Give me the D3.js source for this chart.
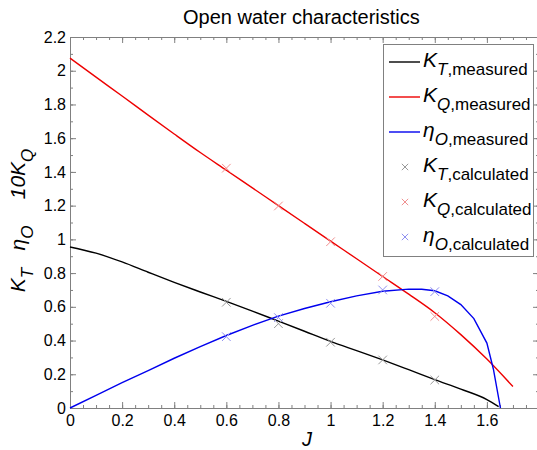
<!DOCTYPE html>
<html>
<head>
<meta charset="utf-8">
<script src="https://cdn.jsdelivr.net/npm/d3@7"></script>
<style>
  body { margin: 0; background: #fff; }
  svg { display: block; font-family: "Liberation Sans", Arial, sans-serif; }
</style>
</head>
<body>
<svg id="chart" width="537" height="450"></svg>
<script>
// measured curves
let jKT = [0, 0.1, 0.2, 0.3, 0.4, 0.5, 0.6, 0.7, 0.8, 0.9, 1.0, 1.1, 1.2, 1.3, 1.4, 1.5, 1.6, 1.645];
let ktMeasured = [0.955, 0.918, 0.866, 0.805, 0.745, 0.688, 0.632, 0.575, 0.515, 0.455, 0.395, 0.34, 0.285, 0.227, 0.168, 0.112, 0.05, 0.008];

let jKQ = [0, 0.1, 0.2, 0.3, 0.4, 0.5, 0.6, 0.7, 0.8, 0.9, 1.0, 1.1, 1.2, 1.3, 1.4, 1.5, 1.6, 1.7];
let kq10Measured = [2.075, 1.962, 1.85, 1.737, 1.625, 1.515, 1.41, 1.305, 1.2, 1.095, 0.99, 0.885, 0.78, 0.675, 0.565, 0.435, 0.29, 0.127];

let jEta = [0, 0.1, 0.2, 0.3, 0.4, 0.5, 0.6, 0.7, 0.8, 0.9, 1.0, 1.1, 1.2, 1.3, 1.35, 1.4, 1.45, 1.5, 1.55, 1.6, 1.625, 1.652];
let etaMeasured = [0, 0.075, 0.15, 0.222, 0.295, 0.364, 0.43, 0.49, 0.545, 0.59, 0.63, 0.665, 0.692, 0.705, 0.704, 0.695, 0.665, 0.613, 0.53, 0.385, 0.23, 0.0];

// calculated points
let jCalc = [0.6, 0.8, 1.0, 1.2, 1.4];
let ktCalc = [0.627, 0.50, 0.39, 0.285, 0.166];
let kq10Calc = [1.422, 1.198, 0.986, 0.78, 0.543];
let etaCalc = [0.423, 0.536, 0.621, 0.70, 0.69];

let xTicks = [0, 0.2, 0.4, 0.6, 0.8, 1, 1.2, 1.4, 1.6];
let yTicks = [0, 0.2, 0.4, 0.6, 0.8, 1, 1.2, 1.4, 1.6, 1.8, 2, 2.2];

let legendItems = [
    {sym: "K", sub: "T", rest: ",measured", kind: "line", color: "#000000"},
    {sym: "K", sub: "Q", rest: ",measured", kind: "line", color: "#ee0000"},
    {sym: "\u03B7", sub: "O", rest: ",measured", kind: "line", color: "#0000ee"},
    {sym: "K", sub: "T", rest: ",calculated", kind: "cross", color: "#999999"},
    {sym: "K", sub: "Q", rest: ",calculated", kind: "cross", color: "#f09090"},
    {sym: "\u03B7", sub: "O", rest: ",calculated", kind: "cross", color: "#9090f0"}
];

let margin = {left: 70, top: 37, right: -2, bottom: 42};
let width = 537 - margin.left - margin.right,
    height = 450 - margin.top - margin.bottom;

let svg = d3.select("#chart");
let g = svg.append("g").attr("transform", `translate(${margin.left},${margin.top})`);

let x = d3.scaleLinear().domain([0, 1.8]).range([0, width]);
let y = d3.scaleLinear().domain([0, 2.2]).range([height, 0]);

let axisColor = "#808080";

let xMinor = d3.range(0, 1.8001, 0.05);
let yMinor = d3.range(0, 2.2001, 0.1);

function styleAxis(sel) {
    sel.selectAll("path").attr("stroke", axisColor);
    sel.selectAll("line").attr("stroke", axisColor);
    sel.selectAll("text").attr("fill", "#000").style("font-size", "16px")
        .style("font-family", "'Liberation Sans', Arial, sans-serif");
}

// minor ticks
g.append("g").attr("transform", `translate(0,${height})`)
    .call(d3.axisBottom(x).tickValues(xMinor).tickSize(-3).tickFormat(""))
    .call(styleAxis);
g.append("g")
    .call(d3.axisTop(x).tickValues(xMinor).tickSize(-3).tickFormat(""))
    .call(styleAxis);
g.append("g")
    .call(d3.axisLeft(y).tickValues(yMinor).tickSize(-3).tickFormat(""))
    .call(styleAxis);
g.append("g").attr("transform", `translate(${width},0)`)
    .call(d3.axisRight(y).tickValues(yMinor).tickSize(-3).tickFormat(""))
    .call(styleAxis);

// major ticks
g.append("g").attr("transform", `translate(0,${height})`)
    .call(d3.axisBottom(x).tickValues(xTicks).tickSizeInner(-6).tickSizeOuter(0).tickPadding(7).tickFormat(d3.format("")))
    .call(styleAxis);
g.append("g")
    .call(d3.axisLeft(y).tickValues(yTicks).tickSizeInner(-6).tickSizeOuter(0).tickPadding(4).tickFormat(d3.format("")))
    .call(styleAxis);
g.append("g")
    .call(d3.axisTop(x).tickValues(xTicks).tickSizeInner(-6).tickSizeOuter(0).tickFormat(""))
    .call(styleAxis);
g.append("g").attr("transform", `translate(${width},0)`)
    .call(d3.axisRight(y).tickValues(yTicks).tickSizeInner(-6).tickSizeOuter(0).tickFormat(""))
    .call(styleAxis);

// curves
let smooth = d3.line()
    .curve(d3.curveMonotoneX)
    .x(function(d) { return x(d[0]); })
    .y(function(d) { return y(d[1]); });
let straight = d3.line()
    .x(function(d) { return x(d[0]); })
    .y(function(d) { return y(d[1]); });

let curves = [
    {j: jKT, v: ktMeasured, color: "#000000", gen: smooth},
    {j: jKQ, v: kq10Measured, color: "#ee0000", gen: smooth},
    {j: jEta, v: etaMeasured, color: "#0000ee", gen: straight}
];
curves.forEach(function(c) {
    g.append("path")
        .datum(c.j.map(function(j, i) { return [j, c.v[i]]; }))
        .attr("fill", "none")
        .attr("stroke", c.color)
        .attr("stroke-width", 1.4)
        .attr("d", c.gen);
});

// calculated crosses
let cross = d3.symbol().type(d3.symbolX).size(50);
let calcSets = [
    {v: ktCalc, color: "#999999"},
    {v: kq10Calc, color: "#f09090"},
    {v: etaCalc, color: "#9090f0"}
];
calcSets.forEach(function(s) {
    g.selectAll(null)
        .data(jCalc.map(function(j, i) { return [j, s.v[i]]; }))
        .enter()
        .append("path")
        .attr("d", cross)
        .attr("transform", function(d) { return `translate(${x(d[0])},${y(d[1])})`; })
        .attr("fill", "none")
        .attr("stroke", s.color)
        .attr("stroke-width", 1);
});

// title
svg.append("text")
    .attr("x", 183)
    .attr("y", 24)
    .style("font-size", "20px")
    .text("Open water characteristics");

// x label
svg.append("text")
    .attr("x", 302)
    .attr("y", 446)
    .style("font-size", "20px")
    .style("font-style", "italic")
    .text("J");

// y label: three rotated pieces
function symbolText(sel, sym, sub, rest, big, small) {
    sel.append("tspan").style("font-style", "italic").style("font-size", big + "px").text(sym);
    sel.append("tspan").attr("dy", 8).style("font-style", "italic").style("font-size", small + "px").text(sub);
    if (rest) sel.append("tspan").style("font-size", small + "px").text(rest);
}
let yLabels = [
    {sym: "K", sub: "T", cy: 280},
    {sym: "\u03B7", sub: "O", cy: 238},
    {sym: "10K", sub: "Q", cy: 174}
];
yLabels.forEach(function(l) {
    let t = svg.append("text")
        .attr("transform", `translate(25,${l.cy}) rotate(-90)`)
        .attr("text-anchor", "middle");
    symbolText(t, l.sym, l.sub, null, 21, 17);
});

// legend
let lg = svg.append("g");
lg.append("rect")
    .attr("x", 383.5).attr("y", 44.5)
    .attr("width", 150).attr("height", 212)
    .attr("fill", "#fff")
    .attr("stroke", axisColor);

legendItems.forEach(function(it, i) {
    let cy = 62 + i * 35;
    if (it.kind === "line") {
        lg.append("line")
            .attr("x1", 389).attr("x2", 420)
            .attr("y1", cy).attr("y2", cy)
            .attr("stroke", it.color).attr("stroke-width", 1.4);
    } else {
        lg.append("path")
            .attr("d", d3.symbol().type(d3.symbolX).size(28))
            .attr("transform", `translate(405,${cy})`)
            .attr("fill", "none")
            .attr("stroke", it.color);
    }
    let t = lg.append("text").attr("x", 423).attr("y", cy + 5);
    symbolText(t, it.sym, it.sub, it.rest, 21, 17);
});
</script>
</body>
</html>
